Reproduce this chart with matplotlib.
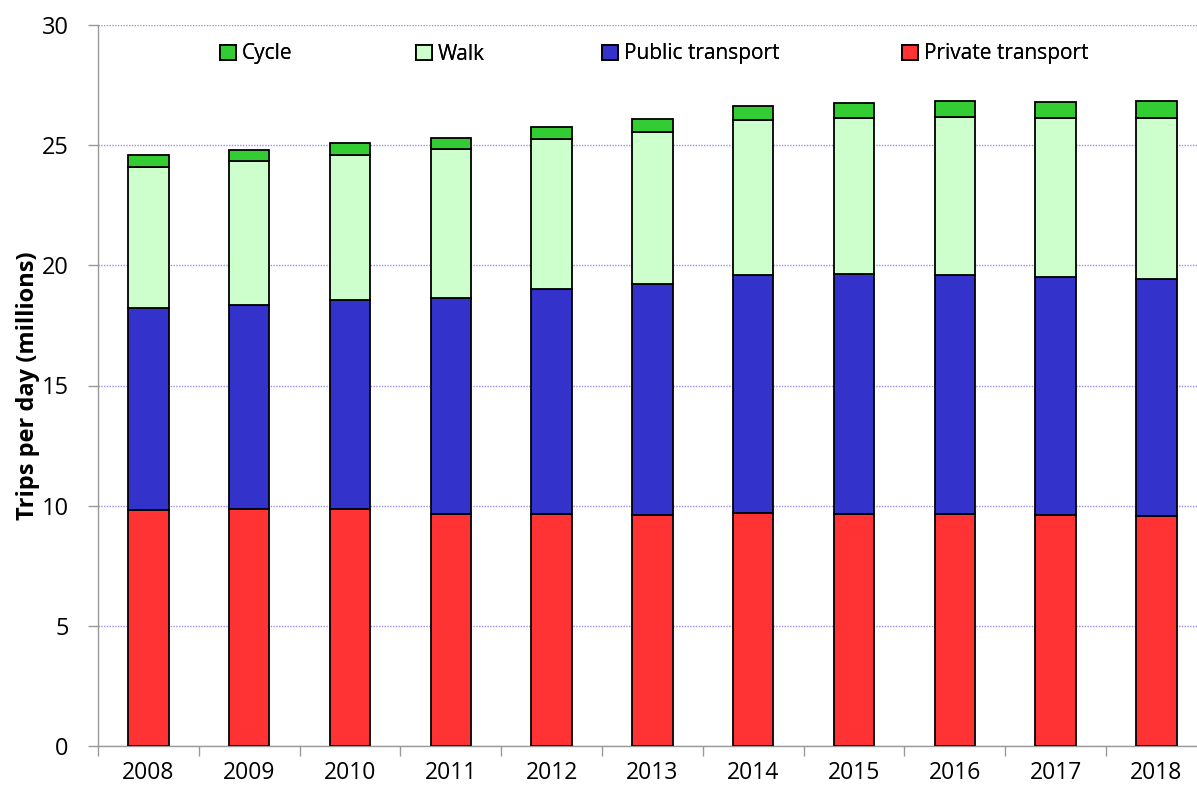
import numpy as np
import matplotlib
matplotlib.use("Agg")
import matplotlib.pyplot as plt

years = ['2008', '2009', '2010', '2011', '2012', '2013', '2014', '2015', '2016', '2017', '2018']

private_transport = [9.82, 9.87, 9.85, 9.66, 9.66, 9.60, 9.71, 9.66, 9.66, 9.61, 9.56]
public_transport = [8.39, 8.49, 8.70, 9.00, 9.35, 9.64, 9.90, 9.97, 9.93, 9.91, 9.87]
walk = [5.90, 5.98, 6.04, 6.17, 6.24, 6.32, 6.43, 6.50, 6.59, 6.63, 6.69]
cycle = [0.47, 0.47, 0.52, 0.48, 0.51, 0.52, 0.58, 0.63, 0.66, 0.65, 0.71]

series = [
    ('Private transport', private_transport, '#ff3333'),
    ('Public transport', public_transport, '#3333cc'),
    ('Walk', walk, '#ccffcc'),
    ('Cycle', cycle, '#33cc33'),
]

plt.rcParams['font.family'] = ['Open Sans', 'DejaVu Sans']

W, H = 1197, 787
fig = plt.figure(figsize=(W / 100, H / 100), dpi=100)
ax = fig.add_axes([98 / W, 41 / H, 11 * 100.8 / W, 721 / H])

x = np.arange(len(years))
bottom = np.zeros(len(years))
handles = {}
for name, vals, color in series:
    bars = ax.bar(x, vals, width=0.40, bottom=bottom, color=color,
                  edgecolor='black', linewidth=1.3, zorder=3)
    handles[name] = bars
    bottom += np.array(vals)

ax.set_xlim(-0.5, len(years) - 0.5)
ax.set_ylim(0, 30)

ax.set_yticks(np.arange(0, 31, 5))
ax.tick_params(axis='y', labelsize=17, length=7, width=1, color='#999999', pad=14)
ax.yaxis.grid(True, linestyle=(0, (1, 1)), color='#9b8cf0', linewidth=1, zorder=0)

ax.set_xticks(np.arange(-0.5, len(years), 1))
ax.set_xticklabels([])
ax.set_xticks(x, minor=True)
ax.set_xticklabels(years, minor=True)
ax.tick_params(axis='x', which='major', length=7, width=1, color='#999999')
ax.tick_params(axis='x', which='minor', length=0, labelsize=16.5, pad=11)

for s in ['top', 'right']:
    ax.spines[s].set_visible(False)
for s in ['left', 'bottom']:
    ax.spines[s].set_color('#999999')
    ax.spines[s].set_linewidth(1)

ax.set_ylabel('Trips per day (millions)', fontsize=17, fontweight='bold', labelpad=1)

# legend entries placed one by one, with the original's uneven spacing
legend_pos = [('Cycle', 220), ('Walk', 416), ('Public transport', 602), ('Private transport', 902)]
for name, px in legend_pos:
    leg = fig.legend([handles[name]], [name], loc='center left',
                     bbox_to_anchor=(px / W, 1 - 54 / H), frameon=False,
                     fontsize=15, handlelength=0.75, handleheight=0.75,
                     handletextpad=0.3, borderpad=0, borderaxespad=0)
    fig.add_artist(leg)

fig.savefig('out.png', dpi=100)
